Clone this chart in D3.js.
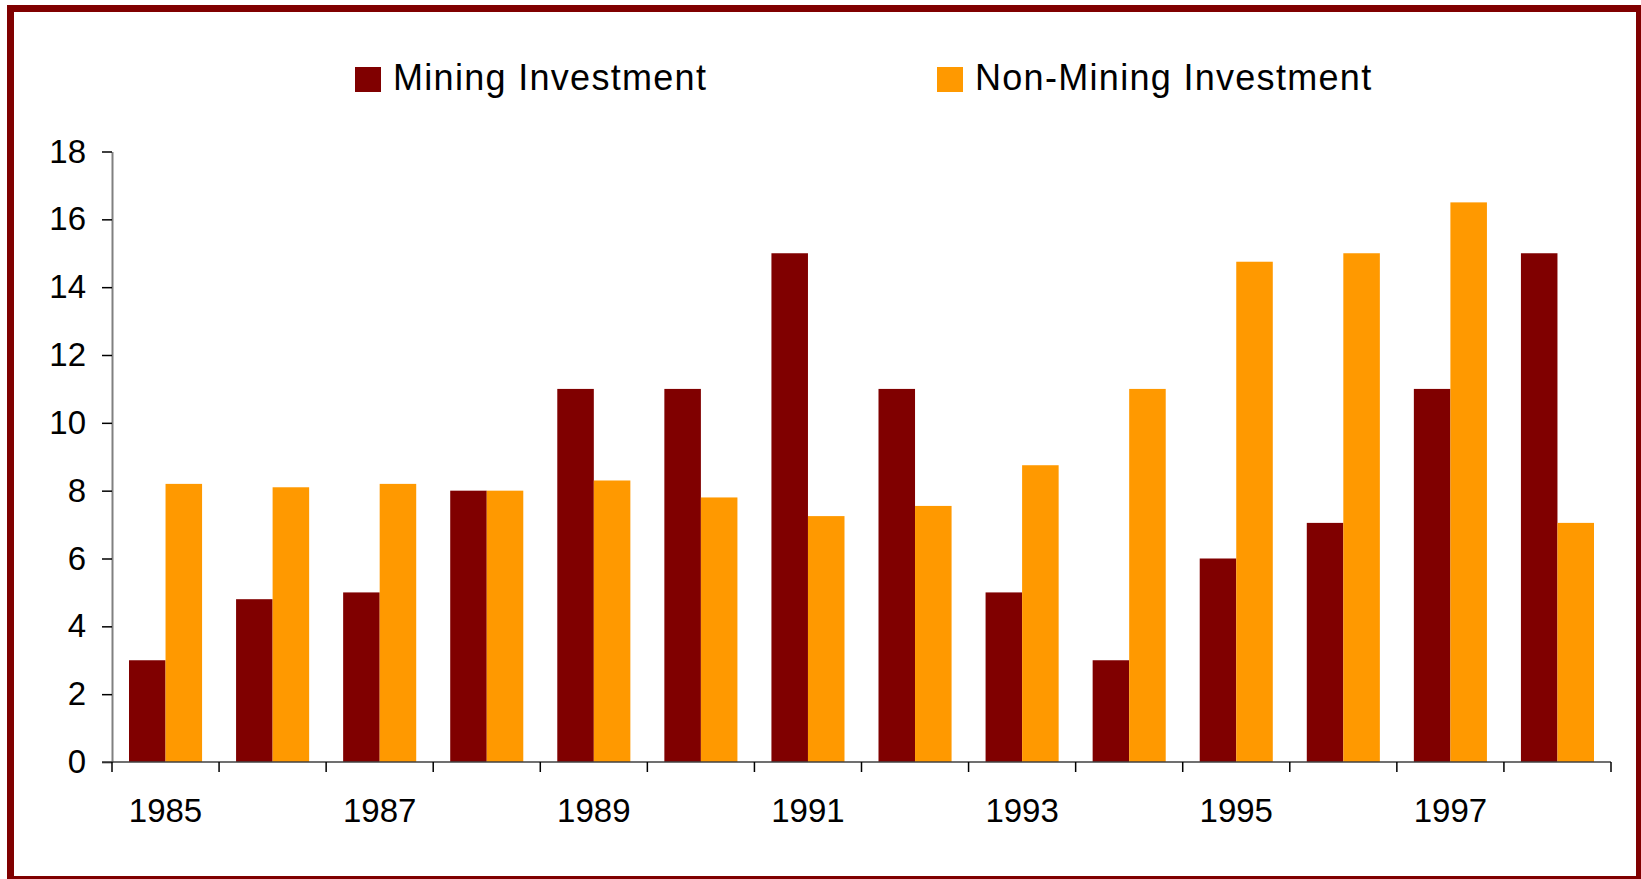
<!DOCTYPE html>
<html>
<head>
<meta charset="utf-8">
<script src="https://cdn.jsdelivr.net/npm/d3@7"></script>
<style>
	html, body { margin: 0; padding: 0; background: #fff; }
	svg { display: block; font-family: "Liberation Sans", Arial, sans-serif; }
</style>
</head>
<body>
<div id="chart"></div>
<script>
// data
var years = ['1985', '1986', '1987', '1988', '1989', '1990', '1991',
             '1992', '1993', '1994', '1995', '1996', '1997', '1998'];
var mining = [3, 4.8, 5, 8, 11, 11, 15, 11, 5, 3, 6, 7.05, 11, 15];
var nonMining = [8.2, 8.1, 8.2, 8, 8.3, 7.8, 7.25, 7.55, 8.75, 11, 14.75, 15, 16.5, 7.05];
var seriesNames = ['Mining Investment', 'Non-Mining Investment'];
var seriesColors = ['#800000', '#FF9900'];
var yTicks = [0, 2, 4, 6, 8, 10, 12, 14, 16, 18];
var xLabels = ['1985', '1987', '1989', '1991', '1993', '1995', '1997'];

var W = 1641, H = 879;

var svg = d3.select('#chart')
	.append('svg')
	.attr('width', W)
	.attr('height', H);

svg.append('rect')
	.attr('width', W).attr('height', H)
	.style('fill', '#fff');

// frame
svg.append('rect')
	.attr('x', 10.5).attr('y', 8.5)
	.attr('width', 1629).attr('height', 871)
	.style('fill', 'none')
	.style('stroke', '#800000')
	.style('stroke-width', 7);

var x0 = d3.scaleBand()
	.domain(years)
	.range([112, 1611])
	.padding(0);

var x1 = d3.scaleBand()
	.domain(seriesNames)
	.range([17, x0.bandwidth() - 17])
	.padding(0);

var y = d3.scaleLinear()
	.domain([0, 18])
	.range([762, 151.5]);

var rows = years.map(function(yr, i) {
	return { year: yr, values: [mining[i], nonMining[i]] };
});

// bars
var groups = svg.append('g').selectAll('g')
	.data(rows)
	.enter().append('g')
	.attr('transform', function(d) { return 'translate(' + x0(d.year) + ',0)'; });

groups.selectAll('rect')
	.data(function(d) {
		return d.values.map(function(v, k) { return { name: seriesNames[k], value: v, color: seriesColors[k] }; });
	})
	.enter().append('rect')
	.attr('x', function(d) { return x1(d.name); })
	.attr('width', x1.bandwidth())
	.attr('y', function(d) { return y(d.value); })
	.attr('height', function(d) { return y(0) - y(d.value); })
	.style('fill', function(d) { return d.color; });

// y axis
var yAxis = svg.append('g')
	.attr('transform', 'translate(112,0)')
	.call(d3.axisLeft(y).tickValues(yTicks).tickSize(10).tickPadding(16).tickSizeOuter(0));
yAxis.select('.domain')
	.style('stroke', '#808080')
	.style('stroke-width', 2);
yAxis.selectAll('.tick line')
	.style('stroke', '#000')
	.style('stroke-width', 1.5);
yAxis.selectAll('.tick text')
	.style('font-size', '33px')
	.style('fill', '#000')
	.style('font-family', '"Liberation Sans", Arial, sans-serif');

// x axis: ticks on category boundaries
var xAxisG = svg.append('g')
	.attr('transform', 'translate(0,' + y(0) + ')');

xAxisG.append('line')
	.attr('x1', 102).attr('x2', 1611)
	.attr('y1', 0).attr('y2', 0)
	.style('stroke', '#404040')
	.style('stroke-width', 1.5);

var boundaries = years.map(function(yr) { return x0(yr); }).concat([x0.range()[1]]);
xAxisG.selectAll('line.xtick')
	.data(boundaries)
	.enter().append('line')
	.attr('class', 'xtick')
	.attr('x1', function(d) { return d; }).attr('x2', function(d) { return d; })
	.attr('y1', 0).attr('y2', 10)
	.style('stroke', '#000')
	.style('stroke-width', 1.5);

xAxisG.selectAll('text')
	.data(xLabels)
	.enter().append('text')
	.attr('x', function(d) { return x0(d) + x0.bandwidth() / 2; })
	.attr('y', 60)
	.attr('text-anchor', 'middle')
	.style('font-size', '33px')
	.style('fill', '#000')
	.text(function(d) { return d; });

// legend
var legendX = [355, 937];
var legend = svg.append('g').selectAll('g')
	.data(seriesNames)
	.enter().append('g')
	.attr('transform', function(d, i) { return 'translate(' + legendX[i] + ',0)'; });

legend.append('rect')
	.attr('x', 0).attr('y', 67)
	.attr('width', 26).attr('height', 25)
	.style('fill', function(d, i) { return seriesColors[i]; });

legend.append('text')
	.attr('x', 38).attr('y', 90)
	.style('font-size', '36px')
	.style('letter-spacing', '1.3px')
	.style('fill', '#000')
	.text(function(d) { return d; });
</script>
</body>
</html>
